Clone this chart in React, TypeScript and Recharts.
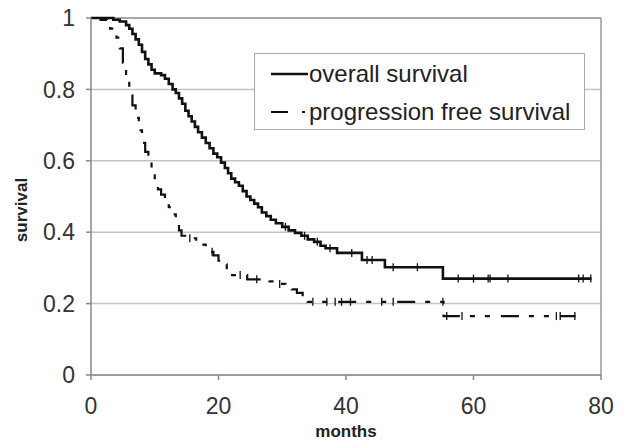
import { ComposedChart, Line, Scatter, XAxis, YAxis, CartesianGrid, ReferenceLine, Legend, Label } from 'recharts';

// Kaplan-Meier curves (months, survival fraction)
const osMonths = [0, 3, 3.5, 4.5, 5.5, 6, 6.5, 7, 7.5, 8, 8.5, 9, 9.5, 10, 11, 11.6, 12.2, 12.8, 13.3, 13.8, 14.3, 14.8, 15.3, 15.8, 16.3, 16.8, 17.4, 18, 18.6, 19.2, 19.8, 20.4, 21, 21.5, 22, 22.6, 23.2, 23.8, 24.4, 25, 25.6, 26.2, 26.8, 27.5, 28.2, 29, 30, 31, 32, 33, 34, 35, 36, 36.8, 38.6, 42.5, 46.1, 55.2, 78.5];
const osSurvival = [1, 1, 0.995, 0.99, 0.98, 0.97, 0.955, 0.94, 0.925, 0.905, 0.885, 0.87, 0.855, 0.845, 0.84, 0.83, 0.815, 0.8, 0.79, 0.775, 0.76, 0.74, 0.725, 0.71, 0.695, 0.68, 0.665, 0.65, 0.635, 0.62, 0.61, 0.595, 0.58, 0.565, 0.55, 0.54, 0.53, 0.515, 0.5, 0.49, 0.48, 0.47, 0.455, 0.445, 0.435, 0.425, 0.415, 0.405, 0.398, 0.39, 0.38, 0.373, 0.362, 0.355, 0.342, 0.322, 0.302, 0.27, 0.27];

const pfsMonths = [0, 1.5, 2.5, 3, 3.5, 4, 4.5, 5, 5.5, 6, 6.5, 7, 7.5, 8, 8.5, 9, 9.5, 10, 10.5, 11, 11.6, 12.2, 12.8, 13.3, 13.8, 14.2, 15.5, 16.5, 17.3, 18, 18.6, 19.2, 20, 20.7, 21.3, 21.8, 24.5, 28, 29.6, 30.5, 31.5, 32.3, 33.2, 34, 55.3, 76];
const pfsSurvival = [1, 0.995, 0.985, 0.97, 0.96, 0.945, 0.915, 0.875, 0.83, 0.79, 0.755, 0.72, 0.685, 0.65, 0.625, 0.6, 0.565, 0.54, 0.52, 0.505, 0.49, 0.47, 0.45, 0.43, 0.405, 0.39, 0.383, 0.375, 0.365, 0.355, 0.345, 0.335, 0.32, 0.31, 0.295, 0.28, 0.268, 0.262, 0.255, 0.248, 0.24, 0.23, 0.218, 0.205, 0.165, 0.165];

// censored observations (months)
const osCensored = [30.5, 33.5, 35.5, 37.5, 40.9, 43.3, 44.1, 47.4, 51.2, 57.6, 60, 62.3, 62.6, 65.4, 76.5, 77.2, 78.4];
const pfsCensored = [15.5, 19, 23.4, 26, 29.6, 34.8, 37, 38.3, 39.3, 40.7, 45.6, 47.4, 55.2, 55.8, 58.2, 73, 73.6, 75.9];

const xTicks = [0, 20, 40, 60, 80];
const yTicks = [0, 0.2, 0.4, 0.6, 0.8, 1];

const FONT = "Arial, 'Liberation Sans', sans-serif";
const INK = '#111';

const toPoints = (months: number[], surv: number[]) => months.map((t, i) => ({ t, s: surv[i] }));

const stepAt = (months: number[], surv: number[], t: number) => {
  let v = surv[0];
  months.forEach((m, i) => {
    if (m <= t) v = surv[i];
  });
  return v;
};

const osData = toPoints(osMonths, osSurvival);
const pfsData = toPoints(pfsMonths, pfsSurvival);
const osCensorData = osCensored.map((t) => ({ t, s: stepAt(osMonths, osSurvival, t) }));
const pfsCensorData = pfsCensored.map((t) => ({ t, s: stepAt(pfsMonths, pfsSurvival, t) }));

const CensorTick = (props: any) => {
  const { cx, cy } = props;
  if (cx == null || cy == null) return null;
  return <line x1={cx} x2={cx} y1={cy - 4} y2={cy + 4} stroke={INK} strokeWidth={1.3} />;
};

const PFS_DASH = '18 10 5 10 5 11';

const LegendBox = () => (
  <div
    style={{
      width: 331,
      height: 77,
      boxSizing: 'border-box',
      border: '1px solid #aaa',
      background: '#fff',
      fontFamily: FONT,
      fontSize: 24,
      color: '#222',
      position: 'relative',
    }}
  >
    {[
      { label: 'overall survival', dash: undefined, width: 2.6, top: 6 },
      { label: 'progression free survival', dash: '17 14 3 14', width: 2.2, top: 44 },
    ].map((row) => (
      <div key={row.label} style={{ position: 'absolute', left: 15, top: row.top, display: 'flex', alignItems: 'center', height: 28, whiteSpace: 'nowrap' }}>
        <svg width={39} height={10} style={{ marginRight: 0 }}>
          <line x1={1} x2={38} y1={5} y2={5} stroke={INK} strokeWidth={row.width} strokeDasharray={row.dash} />
        </svg>
        <span>{row.label}</span>
      </div>
    ))}
  </div>
);

export default function App() {
  return (
    <div style={{ position: 'absolute', left: 0, top: 0 }}>
      <ComposedChart width={624} height={445} margin={{ top: 18, right: 23, bottom: 0, left: 0 }}>
        <CartesianGrid horizontal vertical={false} stroke="#c4c4c4" strokeWidth={1.5} />
        <XAxis
          dataKey="t"
          type="number"
          domain={[0, 80]}
          ticks={xTicks}
          height={70}
          tickSize={5}
          tickMargin={18}
          stroke="#888"
          strokeWidth={1.5}
          tick={{ fill: '#333', fontSize: 23, fontFamily: FONT }}
        >
          <Label
            content={() => (
              <text x={346} y={437} textAnchor="middle" fontFamily={FONT} fontSize={17} fontWeight="bold" fill="#222">
                months
              </text>
            )}
          />
        </XAxis>
        <YAxis
          dataKey="s"
          type="number"
          domain={[0, 1]}
          ticks={yTicks}
          width={91}
          tickSize={5}
          tickMargin={11}
          stroke="#888"
          strokeWidth={1.5}
          tickFormatter={(v: number) => String(v)}
          tick={{ fill: '#333', fontSize: 23, fontFamily: FONT }}
        >
          <Label
            content={() => (
              <text
                x={27}
                y={210}
                transform="rotate(-90 27 210)"
                textAnchor="middle"
                fontFamily={FONT}
                fontSize={17}
                fontWeight="bold"
                fill="#222"
              >
                survival
              </text>
            )}
          />
        </YAxis>
        <ReferenceLine y={1} stroke="#999" strokeWidth={1.5} />
        <ReferenceLine x={80} stroke="#999" strokeWidth={1.5} />
        <Legend
          layout="horizontal"
          verticalAlign="middle"
          align="center"
          content={() => <LegendBox />}
          wrapperStyle={{ position: 'absolute', left: 254, top: 53, width: 331, height: 77 }}
        />
        <Line
          data={pfsData}
          dataKey="s"
          type="stepAfter"
          stroke={INK}
          strokeWidth={2.2}
          strokeDasharray={PFS_DASH}
          dot={false}
          isAnimationActive={false}
          legendType="none"
        />
        <Line
          data={osData}
          dataKey="s"
          type="stepAfter"
          stroke={INK}
          strokeWidth={2.6}
          dot={false}
          isAnimationActive={false}
          legendType="none"
        />
        <Scatter data={osCensorData} dataKey="s" shape={CensorTick} isAnimationActive={false} legendType="none" />
        <Scatter data={pfsCensorData} dataKey="s" shape={CensorTick} isAnimationActive={false} legendType="none" />
      </ComposedChart>
    </div>
  );
}
